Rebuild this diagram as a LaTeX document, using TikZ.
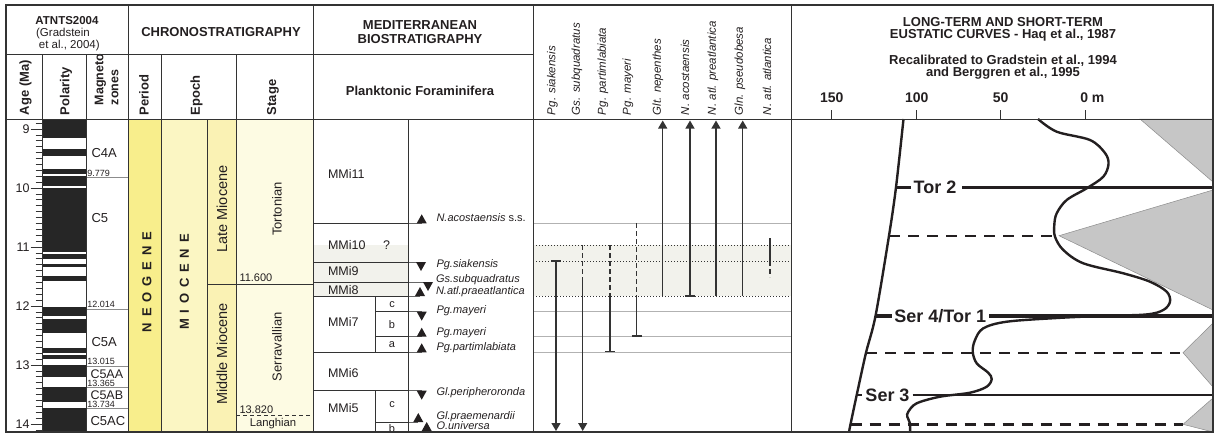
\documentclass[tikz,border=0pt]{standalone}
\usepackage{fontspec}
\setmainfont{Liberation Sans}
\usetikzlibrary{arrows.meta}
\definecolor{ink}{HTML}{231F20}
\definecolor{linec}{HTML}{333333}
\definecolor{perY}{HTML}{F8EE8C}
\definecolor{epY}{HTML}{FBF6C3}
\definecolor{subY}{HTML}{FAF2B4}
\definecolor{stY}{HTML}{FDFBE3}
\definecolor{shd}{HTML}{F2F2EC}
\definecolor{triG}{HTML}{C6C6C6}
\definecolor{polB}{HTML}{262626}
\newcommand{\fsz}[1]{\fontsize{#1}{#1}\selectfont}
\newcommand{\lsp}{\hspace{0.45em}}
\begin{document}
\begin{tikzpicture}[x=1pt,y=-1pt,
  every node/.style={inner sep=0pt,outer sep=0pt,text=ink},
  frame/.style={draw=linec,line width=1.8pt},
  div/.style={draw=linec,line width=0.9pt},
  zline/.style={draw=black!45,line width=0.8pt},
  gline/.style={draw=black!30,line width=0.9pt},
  dotl/.style={draw=black!80,line width=0.9pt,dash pattern=on 1.3pt off 1.7pt},
  tick/.style={draw=linec,line width=0.8pt},
  hdr/.style={font=\fsz{13}\bfseries},
  rhdr/.style={font=\fsz{13}\bfseries,rotate=90,anchor=west},
  sphdr/.style={font=\fsz{11.5}\itshape,rotate=90,anchor=west},
  rng/.style={draw=linec,line width=1.2pt},
  rdash/.style={rng,dash pattern=on 5pt off 3pt},
  arr/.style={-{Triangle[width=9pt,length=8pt]}},
  evt/.style={font=\fsz{11}\itshape,anchor=west},
  zlab/.style={font=\fsz{13},anchor=west},
  znum/.style={font=\fsz{9},anchor=base west},
  mmi/.style={font=\fsz{12.5},anchor=west},
  sub/.style={font=\fsz{11}},
  seq/.style={draw=ink,line width=2.4pt},
  seqd/.style={draw=ink,line width=2.4pt,dash pattern=on 11pt off 8pt},
  curve/.style={draw=ink,line width=2.4pt},
  bnd/.style={font=\fsz{18}\bfseries}
]
\useasboundingbox (0,0) rectangle (1215,434);

% ---------- fills ----------
\fill[perY] (128,119) rectangle (161,432);
\fill[epY] (161,119) rectangle (207,432);
\fill[subY] (207,119) rectangle (236,432);
\fill[stY] (236,119) rectangle (313,432);
\fill[shd] (313,245) rectangle (408,296);
\fill[shd] (533,245) rectangle (791,296);

% ---------- polarity ----------
\foreach \a/\b in {119/138.3,149/155.7,169/174,175.7/186.3,187.7/251.7,254.3/259,263.7/266.7,275.9/280.7,307.3/316,319.3/332.7,348.3/352.7,355.3/359.3,365.3/376.7,386.7/402,408/432}
  \fill[polB] (42,\a) rectangle (86,\b);

% ---------- age ticks ----------
\foreach \i in {89,...,141}
  \draw[tick] (35.5,{129+5.9*(\i-90)}) -- (42,{129+5.9*(\i-90)});
\foreach \k/\l in {0/9,1/10,2/11,3/12,4/13,5/14}{
  \draw[tick] (30.5,{129+59*\k}) -- (42,{129+59*\k});
  \node[font=\fsz{12.5},anchor=east] (age\l) at (29.5,{129+59*\k}) {\l};
}

% ---------- magnetozones ----------
\foreach \y in {177.7,309,366,387.3,408.3}
  \draw[zline] (86,\y) -- (128,\y);
\node[zlab] (zC4A) at (91.5,153.3) {C4A};
\node[zlab] (zC5) at (91.5,218.3) {C5};
\node[zlab] (zC5A) at (91.5,341.7) {C5A};
\node[zlab,font=\fsz{12.5}] (zC5AA) at (90.5,374.3) {C5AA};
\node[zlab,font=\fsz{12.5}] (zC5AB) at (90.5,395.3) {C5AB};
\node[zlab] (zC5AC) at (90.5,420.7) {C5AC};
\node[znum] (n9779) at (87.3,176.6) {9.779};
\node[znum] (n12014) at (87.3,307.9) {12.014};
\node[znum] (n13015) at (87.3,364.9) {13.015};
\node[znum] (n13365) at (87.3,386.4) {13.365};
\node[znum] (n13734) at (87.3,407.6) {13.734};

% ---------- chronostratigraphy ----------
\draw[div] (207,284.7) -- (313,284.7);
\draw[linec,line width=0.9pt,dash pattern=on 4pt off 3pt] (236,415) -- (313,415);
\node[font=\fsz{13}\bfseries,rotate=90] (neog) at (147,282) {N\lsp E\lsp O\lsp G\lsp E\lsp N\lsp E};
\node[font=\fsz{13}\bfseries,rotate=90] (mioc) at (184.5,282) {M\lsp I\lsp O\lsp C\lsp E\lsp N\lsp E};
\node[font=\fsz{14.5},rotate=90] (late) at (222,209) {Late Miocene};
\node[font=\fsz{14.5},rotate=90] (midm) at (222,354) {Middle Miocene};
\node[font=\fsz{13},rotate=90] (tort) at (277,209) {Tortonian};
\node[font=\fsz{13},rotate=90] (serr) at (277,346.7) {Serravallian};
\node[font=\fsz{11.3}] (lang) at (273,424) {Langhian};
\node[font=\fsz{11},anchor=base west] (b116) at (239.5,281.3) {11.600};
\node[font=\fsz{11},anchor=base west] (b1382) at (239.5,413.3) {13.820};

% ---------- biostratigraphy ----------
\draw[div] (313,223.3) -- (408,223.3);
\draw[div] (313,262) -- (408,262);
\draw[div] (313,282) -- (408,282);
\draw[div] (313,296) -- (408,296);
\draw[div] (375.7,311.7) -- (408,311.7);
\draw[div] (375.7,336.7) -- (408,336.7);
\draw[div] (313,352.3) -- (408,352.3);
\draw[div] (313,390.7) -- (408,390.7);
\draw[div] (375.7,422.5) -- (408,422.5);
\draw[div] (375.7,296) -- (375.7,352.3);
\draw[div] (375.7,390.7) -- (375.7,432);
% extensions to events
\foreach \y/\x in {223.3/421.7,262/421,282/428,296/420,311.7/421.7,336.7/421.7,352.3/421.7,390.7/421.7,422.5/418.3}
  \draw[draw=black!60,line width=0.8pt] (408,\y) -- (\x,\y);
\node[mmi] (mmi11) at (328,174) {MMi11};
\node[mmi] (mmi10) at (328,245) {MMi10};
\node[font=\fsz{12.5}] (q10) at (386.7,245) {?};
\node[mmi] (mmi9) at (328,271.5) {MMi9};
\node[mmi] (mmi8) at (328,290) {MMi8};
\node[mmi] (mmi7) at (328,321.7) {MMi7};
\node[mmi] (mmi6) at (328,373.3) {MMi6};
\node[mmi] (mmi5) at (328,408.3) {MMi5};
\node[sub] (s7c) at (392,304.5) {c};
\node[sub] (s7b) at (392,324.5) {b};
\node[sub] (s7a) at (392,344.5) {a};
\node[sub] (s5c) at (392,405) {c};
\node[sub] (s5b) at (392,428.5) {b};
% event triangles
\foreach \x/\y in {421.7/223.3,420/296,421.7/336.7,421.7/352.3,418.3/422,426.7/431}
  \fill[ink] (\x,\y) ++(-5,0) -- ++(10,0) -- ++(-5,-9) -- cycle;
\foreach \x/\y in {421/262,428/282,421.7/311.7,421.7/390.7}
  \fill[ink] (\x,\y) ++(-5,0) -- ++(10,0) -- ++(-5,9) -- cycle;
\node[evt] (e1) at (436.5,218) {N.acostaensis\upshape\ s.s.};
\node[evt] (e2) at (436.5,264.5) {Pg.siakensis};
\node[evt] (e3) at (436,280) {Gs.subquadratus};
\node[evt] (e4) at (436,291.5) {N.atl.praeatlantica};
\node[evt] (e5) at (436.5,310.7) {Pg.mayeri};
\node[evt] (e6) at (436.5,332.7) {Pg.mayeri};
\node[evt] (e7) at (436.5,348) {Pg.partimlabiata};
\node[evt] (e8) at (436.5,392.7) {Gl.peripheroronda};
\node[evt] (e9) at (436.5,416.7) {Gl.praemenardii};
\node[evt] (e10) at (436.5,425.7) {O.universa};

% ---------- range chart ----------
\foreach \y in {223.3,311.7,336.7,352.3}
  \draw[gline] (533,\y) -- (791,\y);
\foreach \y in {245,261.5,296}
  \draw[dotl] (533,\y) -- (791,\y);
\coordinate (r1a) at (556,261);   \coordinate (r1b) at (556,431);
\coordinate (r2a) at (582.7,245); \coordinate (r2m) at (582.7,281.7); \coordinate (r2b) at (582.7,431);
\coordinate (r3a) at (610,245);   \coordinate (r3m) at (610,295);   \coordinate (r3b) at (610,351.7);
\coordinate (r4a) at (636.7,223.3); \coordinate (r4m) at (636.7,296); \coordinate (r4b) at (636.7,336);
\coordinate (r5a) at (662.7,296); \coordinate (r5b) at (662.7,120.5);
\coordinate (r6a) at (690,296);   \coordinate (r6b) at (690,120.5);
\coordinate (r7a) at (716,296);   \coordinate (r7b) at (716,120.5);
\coordinate (r8a) at (742.7,296); \coordinate (r8b) at (742.7,120.5);
\coordinate (r9a) at (770,238);   \coordinate (r9m) at (770,261);   \coordinate (r9b) at (770,277);
\draw[rng,arr] (r1a) -- (r1b);
\draw[rng] ([xshift=-5pt]r1a) -- ([xshift=5pt]r1a);
\draw[rdash] (r2a) -- (r2m);
\draw[rng,arr] (r2m) -- (r2b);
\draw[rdash] (r3a) -- (r3m);
\draw[rng] (r3m) -- (r3b);
\draw[rng] ([xshift=-5pt]r3b) -- ([xshift=5pt]r3b);
\draw[rdash] (r4a) -- (r4m);
\draw[rng] (r4m) -- (r4b);
\draw[rng] ([xshift=-5pt]r4b) -- ([xshift=5pt]r4b);
\draw[rng,arr] (r5a) -- (r5b);
\draw[rng,arr] (r6a) -- (r6b);
\draw[rng] ([xshift=-5pt]r6a) -- ([xshift=5pt]r6a);
\draw[rng,arr] (r7a) -- (r7b);
\draw[rng,arr] (r8a) -- (r8b);
\draw[rng] (r9a) -- (r9m);
\draw[rdash] (r9m) -- (r9b);

% ---------- eustatic ----------
\filldraw[fill=triG,draw=black!45,line width=0.5pt] (1140,119) -- (1213,119) -- (1213,182) -- cycle;
\filldraw[fill=triG,draw=black!45,line width=0.5pt] (1059,235.7) -- (1213,190) -- (1213,310) -- cycle;
\filldraw[fill=triG,draw=black!45,line width=0.5pt] (1183,352.7) -- (1213,323) -- (1213,387) -- cycle;
\filldraw[fill=triG,draw=black!45,line width=0.5pt] (1183,424.3) -- (1213,398) -- (1213,432) -- cycle;

\draw[curve] plot[smooth] coordinates {(903.5,119) (896,187.3) (889,235.7) (875.5,316) (866,352.7) (856.7,395) (850.5,424.3) (849,432)};

\node[bnd] (tor2) at (935,187.3) {Tor 2};
\node[bnd] (ser4) at (940.3,316) {Ser 4/Tor 1};
\node[bnd] (ser3) at (887.5,395) {Ser 3};
\coordinate (lt2) at (896,187.3);  \coordinate (rt2) at (1213,187.3);
\coordinate (lt4) at (875.5,316);  \coordinate (rt4) at (1213,316);
\coordinate (lt3) at (856.7,395);  \coordinate (rt3) at (1213,395);
\draw[seq] (lt2) -- ([xshift=-2.5pt]tor2.west);
\draw[seq] ([xshift=6pt]tor2.east) -- (rt2);
\draw[seq,line width=3.4pt] (lt4) -- ([xshift=-2.5pt]ser4.west);
\draw[seq,line width=3.4pt] ([xshift=3pt]ser4.east) -- (rt4);
\draw[seq] (lt3) -- ([xshift=-3pt]ser3.west);
\draw[seq] ([xshift=3pt]ser3.east) -- (rt3);
\coordinate (d1a) at (889,235.7); \coordinate (d1b) at (1054,235.7);
\coordinate (d2a) at (866,352.7); \coordinate (d2b) at (1180,352.7);
\coordinate (d3a) at (850.5,424.3); \coordinate (d3b) at (1183,424.3);
\draw[seqd] (d1a) -- (d1b);
\draw[seqd] (d2a) -- (d2b);
\draw[seqd] (d3a) -- (d3b);

\draw[curve] plot[smooth,tension=0.55] coordinates {
(1038,119) (1056.7,131.7) (1090,140) (1105,153) (1108.5,164) (1103.3,176.7)
(1086.7,188.3) (1066.7,200) (1056.7,213.3) (1054.3,225) (1055,236.7) (1063.3,250)
(1083.3,263.3) (1123.3,273.3) (1150,281.7) (1166.7,291.7) (1170,301.7) (1163.3,310)
(1146,314.5) (1100,316) (1056.7,318) (1006.7,321.7) (983.3,328.3) (975,340)
(972.7,351.7) (976.7,363.3) (988,372.5) (991.7,379) (986.7,386.7) (970,392.7)
(940,396.7) (916.7,403.3) (908.3,411.7) (907.3,416.7) (910,423.3) (910,432)};

% scale
\foreach \x/\l [count=\c] in {831.7/150,916.7/100,1000.7/50}{
  \draw[tick,line width=0.9pt] (\x,110) -- (\x,119);
  \node[font=\fsz{14}\bfseries] (sc\c) at (\x,98) {\l};
}
\draw[tick,line width=0.9pt] (1085,110) -- (1085,119);
\node[font=\fsz{14}\bfseries,anchor=west] (sc0) at (1080.3,98) {0 m};
\node[hdr] (eh1) at (1003,22) {LONG-TERM AND SHORT-TERM};
\node[hdr] (eh2) at (1003,35.5) {EUSTATIC CURVES - Haq et al., 1987};
\node[hdr] (eh3) at (1003,61) {Recalibrated to Gradstein et al., 1994};
\node[hdr] (eh4) at (1003,73.5) {and Berggren et al., 1995};

% ---------- headers ----------
\node[font=\fsz{11.5}\bfseries] (atn) at (67,20.7) {ATNTS2004};
\node[font=\fsz{11.5}] (atn2) at (63,33.3) {(Gradstein};
\node[font=\fsz{11.5}] (atn3) at (69.3,45.7) {et al., 2004)};
\node[hdr] (chr) at (221,31.7) {CHRONOSTRATIGRAPHY};
\node[hdr] (bio1) at (420,25) {MEDITERRANEAN};
\node[hdr] (bio2) at (420,39.3) {BIOSTRATIGRAPHY};
\node[hdr] (plf) at (420,90.7) {Planktonic Foraminifera};
\node[rhdr] (hage) at (25.5,115) {Age (Ma)};
\node[rhdr] (hpol) at (66,115) {Polarity};
\node[rhdr,font=\fsz{12.5}\bfseries] (hmag) at (100.5,105) {Magneto};
\node[rhdr,font=\fsz{12.5}\bfseries] (hzon) at (115,105) {zones};
\node[rhdr] (hper) at (144,115) {Period};
\node[rhdr] (hepo) at (196.5,115) {Epoch};
\node[rhdr] (hsta) at (273,115) {Stage};
\node[sphdr] (sp1) at (552.5,115) {Pg. siakensis};
\node[sphdr] (sp2) at (577,115) {Gs. subquadratus};
\node[sphdr] (sp3) at (603,115) {Pg. partimlabiata};
\node[sphdr] (sp4) at (628,115) {Pg. mayeri};
\node[sphdr] (sp5) at (658,115) {Glt. nepenthes};
\node[sphdr] (sp6) at (685,115) {N. acostaensis};
\node[sphdr] (sp7) at (713,115) {N. atl. preatlantica};
\node[sphdr] (sp8) at (740,115) {Gln. pseudobesa};
\node[sphdr] (sp9) at (767,115) {N. atl. atlantica};

% ---------- grid ----------
\draw[div] (6,54) -- (533,54);
\draw[div] (6,119) -- (1213,119);
\foreach \x in {128,313,533,791} \draw[div] (\x,5) -- (\x,432);
\foreach \x in {42,86,161,236} \draw[div] (\x,54) -- (\x,432);
\foreach \x in {207,408} \draw[div] (\x,119) -- (\x,432);
\draw[frame] (6,5) rectangle (1213,432);
\end{tikzpicture}
\end{document}
